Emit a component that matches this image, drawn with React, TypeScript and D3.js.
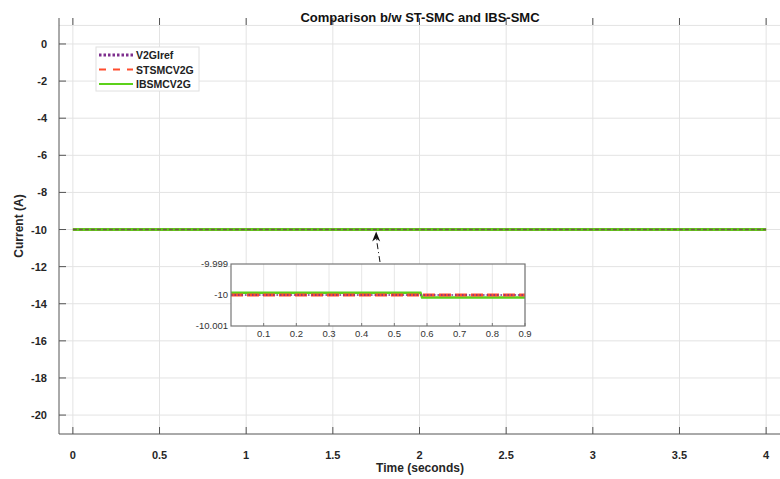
import React from "react";
import * as d3 from "d3";

const xTicks = [0, 0.5, 1, 1.5, 2, 2.5, 3, 3.5, 4];
const yTicks = [0, -2, -4, -6, -8, -10, -12, -14, -16, -18, -20];
const mainTime = [0, 4];
const refValues = [-10, -10];
const stValues = [-10, -10];
const ibsValues = [-10, -10];

const insetXTicks = [0.1, 0.2, 0.3, 0.4, 0.5, 0.6, 0.7, 0.8, 0.9];
const insetYTicks = [-9.999, -10, -10.001];
const insetYLabels = ["-9.999", "-10", "-10.001"];
const insetTime = [0, 0.58, 0.585, 0.9];
const insetRef = [-10, -10, -10, -10];
const insetSt = [-10, -10, -10, -10];
const insetIbs = [-9.99993, -9.99993, -10.00008, -10.00008];

const seriesNames = ["V2GIref", "STSMCV2G", "IBSMCV2G"];
const colors = { ref: "#7E2F8E", st: "#FF4D2E", ibs: "#5CD11A" };

const FONT = "'Liberation Sans', Arial, sans-serif";

export default function App() {
  const W = 780, H = 479;
  const left = 59, right = 780, top = 18, bottom = 434;
  const x = d3.scaleLinear().domain([-0.08, 4.08]).range([left, right]);
  const y = d3.scaleLinear().domain([-21.02, 1.4]).range([bottom, top]);

  const ix = d3.scaleLinear().domain([0, 0.9]).range([231, 525]);
  const iy = d3.scaleLinear().domain([-10.001, -9.999]).range([326, 264]);

  const mk = (xs: number[], ys: number[], sx: any, sy: any) =>
    d3.line<number>().x((_, i) => sx(xs[i])).y((_, i) => sy(ys[i]))(xs) || "";

  const arrowX1 = 380, arrowY1 = 262, arrowX2 = x(1.75), arrowY2 = y(-10) + 2;

  return (
    <svg width={W} height={H} style={{ position: "absolute", left: 0, top: 0, background: "#fff" }} fontFamily={FONT}>
      {/* grid */}
      {xTicks.map((t) => (
        <line key={"gx" + t} x1={x(t)} x2={x(t)} y1={top} y2={bottom} stroke="#e3e3e3" strokeWidth={1} />
      ))}
      {[1, ...yTicks].map((t) => (
        <line key={"gy" + t} x1={left} x2={right} y1={y(t)} y2={y(t)} stroke="#e3e3e3" strokeWidth={1} />
      ))}
      {/* main lines */}
      <path d={mk(mainTime, ibsValues, x, y)} stroke={colors.ibs} strokeWidth={3} fill="none" />
      <path d={mk(mainTime, stValues, x, y)} stroke={colors.st} strokeWidth={1.5} strokeDasharray="4,2" fill="none" opacity={0.6} />
      <path d={mk(mainTime, refValues, x, y)} stroke="#555" strokeWidth={1.5} strokeDasharray="4,2" fill="none" opacity={0.8} />
      {/* axes */}
      <line x1={left} x2={left} y1={top} y2={bottom} stroke="#555" strokeWidth={1} />
      <line x1={left} x2={right} y1={bottom} y2={bottom} stroke="#555" strokeWidth={1} />
      {xTicks.map((t) => (
        <g key={"xt" + t}>
          <line x1={x(t)} x2={x(t)} y1={bottom} y2={bottom - 7} stroke="#555" />
          <line x1={x(t)} x2={x(t)} y1={top} y2={top + 7} stroke="#555" />
          <text x={x(t)} y={bottom + 25} textAnchor="middle" fontSize={11} fontWeight="bold" fill="#262626">{t}</text>
        </g>
      ))}
      {yTicks.map((t) => (
        <g key={"yt" + t}>
          <line x1={left} x2={left + 7} y1={y(t)} y2={y(t)} stroke="#555" />
          <text x={left - 12} y={y(t) + 4} textAnchor="end" fontSize={11} fontWeight="bold" fill="#262626">{t}</text>
        </g>
      ))}
      <text x={420} y={472} textAnchor="middle" fontSize={12} fontWeight="bold" fill="#262626">Time (seconds)</text>
      <text transform={`translate(23,${(top + bottom) / 2}) rotate(-90)`} textAnchor="middle" fontSize={12} fontWeight="bold" fill="#262626">Current (A)</text>
      <text x={420} y={22} textAnchor="middle" fontSize={13} fontWeight="bold" fill="#111">Comparison b/w ST-SMC and IBS-SMC</text>

      {/* legend */}
      <rect x={96} y={47} width={103} height={44} fill="#fff" stroke="#e0e0e0" />
      {seriesNames.map((n, i) => {
        const yy = 55 + i * 14.5;
        const c = i === 0 ? colors.ref : i === 1 ? colors.st : colors.ibs;
        const dash = i === 0 ? "2.5,2" : i === 1 ? "7,7" : undefined;
        return (
          <g key={n}>
            <line x1={99} x2={133} y1={yy} y2={yy} stroke={c} strokeWidth={i === 0 ? 3 : 2} strokeDasharray={dash} />
            <text x={136} y={yy + 4} fontSize={10.5} fontWeight="bold" fill="#222">{n}</text>
          </g>
        );
      })}

      {/* arrow */}
      <line x1={arrowX1} x2={arrowX2} y1={arrowY1} y2={arrowY2 + 6} stroke="#111" strokeWidth={1} strokeDasharray="6,3,1,3" />
      <path d={`M${arrowX2},${arrowY2} L${arrowX2 - 4},${arrowY2 + 10} L${arrowX2},${arrowY2 + 7} L${arrowX2 + 4},${arrowY2 + 10} Z`} fill="#111" />

      {/* inset */}
      <rect x={231} y={264} width={294} height={62} fill="#fff" />
      {insetXTicks.map((t) => (
        <line key={"igx" + t} x1={ix(t)} x2={ix(t)} y1={264} y2={326} stroke="#e6e6e6" />
      ))}
      <line x1={231} x2={525} y1={iy(-10)} y2={iy(-10)} stroke="#e6e6e6" />
      <path d={mk(insetTime, insetIbs, ix, iy)} stroke={colors.ibs} strokeWidth={2.5} fill="none" />
      <path d={mk(insetTime, insetSt, ix, iy)} stroke={colors.st} strokeWidth={3} strokeDasharray="12,4" fill="none" />
      <path d={mk(insetTime, insetRef, ix, iy)} stroke={colors.ref} strokeWidth={1.5} strokeDasharray="1.5,2" fill="none" />
      <rect x={231} y={264} width={294} height={62} fill="none" stroke="#777" strokeWidth={1.2} />
      {insetXTicks.map((t) => (
        <g key={"ixt" + t}>
          <line x1={ix(t)} x2={ix(t)} y1={326} y2={323} stroke="#777" />
          <text x={ix(t)} y={337} textAnchor="middle" fontSize={9.5} fill="#333">{t}</text>
        </g>
      ))}
      {insetYTicks.map((t, i) => (
        <g key={"iyt" + t}>
          <text x={228} y={iy(t) + 3} textAnchor="end" fontSize={9.5} fill="#333">{insetYLabels[i]}</text>
        </g>
      ))}
    </svg>
  );
}
